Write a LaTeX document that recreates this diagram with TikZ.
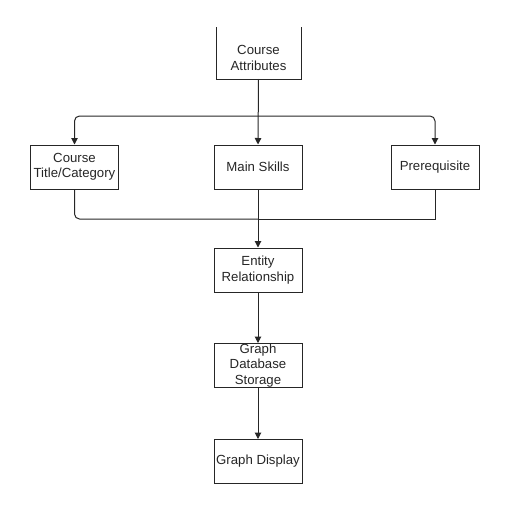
\documentclass[tikz,border=0pt]{standalone}
\usepackage{fontspec}
\setmainfont{Liberation Sans}
\usetikzlibrary{arrows.meta}
\begin{document}
\begin{tikzpicture}[x=1pt,y=-1pt,
  lbl/.style={font=\fontsize{13.2}{15.5}\selectfont,text=black!85,align=center},
  box/.style={lbl,draw=black!85,line width=1pt,minimum width=88pt,minimum height=44pt,inner sep=0pt},
  conn/.style={draw=black!85,line width=1pt},
  arr/.style={conn,-{Triangle[length=6.5pt,width=6.5pt]}}]
\useasboundingbox (0,0) rectangle (517,509);
% top box (top edge cut off)
\draw[conn] (216,27) -- (216,79) -- (301,79) -- (301,27);
\node[lbl] (attr) at (258.5,58) {Course\\Attributes};
\coordinate (attrb) at (258.5,79);
\node[box] (title) at (74.5,167) {Course\\Title/Category};
\node[box] (skills) at (258,167) {Main Skills};
\node[box] (prereq) at (435,167) {Prerequisite};
\node[box] (er) at (258,270) {Entity\\Relationship};
\node[box] (gdb) at (258,365.5) {Graph\\Database\\Storage};
\node[box] (gd) at (258,461.5) {Graph Display};
\coordinate (split) at (258,116);
\coordinate (join) at (258,219);
\draw[arr] (attrb) -- (skills.north);
\draw[arr,rounded corners=5pt] (split) -| (title.north);
\draw[arr,rounded corners=5pt] (split) -| (prereq.north);
\draw[conn,rounded corners=5pt] (title.south) |- (join);
\draw[conn] (prereq.south) |- (join);
\draw[arr] (skills.south) -- (er.north);
\draw[arr] (er.south) -- (gdb.north);
\draw[arr] (gdb.south) -- (gd.north);
\end{tikzpicture}
\end{document}
